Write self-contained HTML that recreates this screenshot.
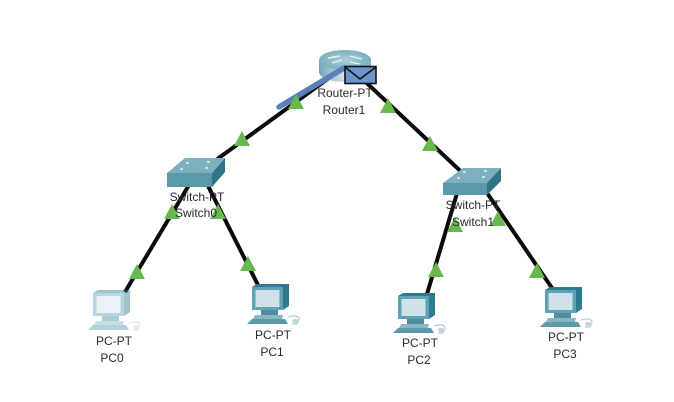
<!DOCTYPE html>
<html><head><meta charset="utf-8"><style>
html,body{margin:0;padding:0;background:#fff;width:674px;height:402px;overflow:hidden}
svg{display:block}
text{font-family:"Liberation Sans",sans-serif;font-size:12px;fill:#2a2a2a;text-anchor:middle}
.soft{filter:blur(.35px)}
</style></head><body>
<svg width="674" height="402" viewBox="0 0 674 402" xmlns="http://www.w3.org/2000/svg">
<defs>
<linearGradient id="rb" x1="0" x2="1" y1="0" y2="0"><stop offset="0" stop-color="#6fa9b5"/><stop offset=".55" stop-color="#dfecee"/><stop offset="1" stop-color="#7fb0ba"/></linearGradient>
<radialGradient id="rt" cx=".5" cy=".5" r=".6"><stop offset="0" stop-color="#a9d0d9"/><stop offset="1" stop-color="#72aab8"/></radialGradient>
<g id="pc">
 <path d="M9 26 L26 26 L26 31 L9 31Z" fill="#4d8d9d"/>
 <path d="M0 3 L5 0 L37 0 L37 22 L31 26 L0 26Z" fill="#2f7b8e"/>
 <rect x="0" y="3" width="31" height="23" fill="#5da3b5"/>
 <rect x="3.500" y="6" width="24" height="17" fill="#cfe2ea"/>
 <path d="M3 31 L31 31 L30 35 L1 35Z" fill="#86b8c4"/>
 <path d="M0 35 L33 35 L36 40 L-5 40Z" fill="#5c9aaa"/>
 <path d="M36 33 Q46 30 47 35 L45 40 L40 40" fill="none" stroke="#b7cfd5" stroke-width="1.300"/>
 <ellipse cx="43" cy="37" rx="2.800" ry="2.300" fill="#c2d6db"/>
</g>
<path id="tri" d="M-8 7 L0 -8 L8 7Z" fill="#67b84d"/>
</defs>
<rect width="674" height="402" fill="#fff"/>
<g class="soft">
<g stroke="#0b0b0b" stroke-width="4" fill="none">
 <line x1="340" y1="70" x2="205" y2="168"/>
 <line x1="355" y1="72" x2="470" y2="180"/>
 <line x1="192" y1="180" x2="125" y2="292"/>
 <line x1="205" y1="180" x2="258" y2="285"/>
 <line x1="458" y1="190" x2="427" y2="294"/>
 <line x1="485" y1="190" x2="552" y2="288"/>
</g>
<!-- router -->
<path d="M319 60 V72 A26 10 0 0 0 371 72 V60Z" fill="url(#rb)"/>
<ellipse cx="345" cy="60" rx="26" ry="10" fill="url(#rt)"/>
<path d="M328 58 L340 56 M350 56 L362 59 M332 63 L342 60 M350 62 L360 64" stroke="#e8f3f5" stroke-width="1.400" fill="none"/>
<line x1="279" y1="107" x2="344" y2="68" stroke="#5b7fbd" stroke-width="5.500" stroke-linecap="round"/>
<!-- envelope -->
<rect x="345" y="66.500" width="31" height="17" fill="#6d94cb" stroke="#10131c" stroke-width="1.600"/>
<path d="M345 67 L360 79 L376 67" fill="none" stroke="#10131c" stroke-width="1.600"/>
<!-- switch0 -->
<path d="M185 158 L225 158 L212 173 L167 173Z" fill="#7eb1c0"/>
<path d="M167 173 L212 173 L212 187 L167 187Z" fill="#5a98ac"/>
<path d="M212 173 L225 158 L225 172 L212 187Z" fill="#2f7487"/>
<path d="M186 163 h3 M207 162 h3 M180 169 h3 M205 168 h3" stroke="#e7f2f4" stroke-width="1.500"/>
<!-- switch1 -->
<path d="M463 168 L501 168 L487 183 L443 183Z" fill="#7eb1c0"/>
<path d="M443 183 L487 183 L487 195 L443 195Z" fill="#5a98ac"/>
<path d="M487 183 L501 168 L501 181 L487 195Z" fill="#2f7487"/>
<path d="M463 172 h3 M484 171 h3 M457 178 h3 M482 177 h3" stroke="#e7f2f4" stroke-width="1.500"/>
<!-- PCs -->
<g opacity=".45"><use href="#pc" x="93" y="290"/></g>
<use href="#pc" x="252" y="284"/>
<use href="#pc" x="398" y="293"/>
<use href="#pc" x="545" y="287"/>
<!-- triangles -->
<use href="#tri" x="296" y="102"/>
<use href="#tri" x="242" y="139"/>
<use href="#tri" x="388" y="106"/>
<use href="#tri" x="430" y="144"/>
<use href="#tri" x="172" y="212"/>
<use href="#tri" x="218" y="212"/>
<use href="#tri" x="137" y="272"/>
<use href="#tri" x="248" y="264"/>
<use href="#tri" x="455" y="225"/>
<use href="#tri" x="498" y="219"/>
<use href="#tri" x="436" y="270"/>
<use href="#tri" x="537" y="271"/>
<!-- labels -->
<text x="345" y="97">Router-PT</text>
<text x="344" y="114">Router1</text>
<text x="197" y="201">Switch-PT</text>
<text x="196" y="217">Switch0</text>
<text x="473" y="209">Switch-PT</text>
<text x="473" y="226">Switch1</text>
<text x="114" y="345">PC-PT</text>
<text x="112" y="362">PC0</text>
<text x="273" y="339">PC-PT</text>
<text x="272" y="356">PC1</text>
<text x="420" y="347">PC-PT</text>
<text x="419" y="364">PC2</text>
<text x="566" y="341">PC-PT</text>
<text x="565" y="358">PC3</text>
</g>
</svg>
</body></html>
